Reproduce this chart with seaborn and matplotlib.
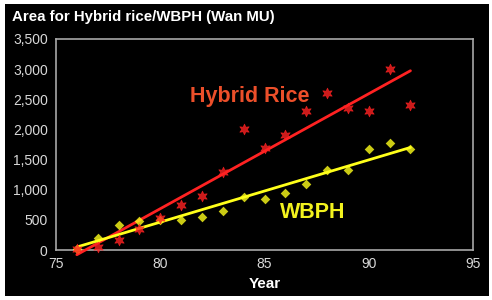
import matplotlib
matplotlib.use("Agg")
import matplotlib.pyplot as plt
import seaborn as sns
import pandas as pd
from matplotlib.patches import Rectangle
from matplotlib.ticker import AutoMinorLocator, FuncFormatter, MultipleLocator

# === Data ===
years = list(range(76, 93))
hybrid_rice = [20, 50, 170, 350, 530, 750, 890, 1300, 2000, 1700, 1900, 2300, 2600, 2350, 2300, 3000, 2400]
wbph = [20, 200, 420, 480, 500, 500, 550, 650, 880, 850, 950, 1100, 1330, 1330, 1680, 1770, 1670]

df = pd.DataFrame({"Year": years, "Hybrid Rice": hybrid_rice, "WBPH": wbph})

sns.set_style("dark")
plt.rcParams["font.family"] = ["Liberation Sans", "DejaVu Sans"]

fig = plt.figure(figsize=(4.92, 3.0), dpi=100)
fig.patch.set_facecolor("white")
# black slide panel with a thin white margin
fig.patches.append(Rectangle((5 / 492, 4 / 300), 484 / 492, 292 / 300,
                             transform=fig.transFigure, facecolor="black",
                             edgecolor="none", zorder=-10))

ax = fig.add_axes([56 / 492, 50 / 300, 417 / 492, 211 / 300])
ax.set_facecolor("black")

# === Regression plots ===
sns.regplot(data=df, x="Year", y="Hybrid Rice", ax=ax, ci=None, marker=(6, 1, 0),
            color="#ff2222",
            scatter_kws={"s": 60, "clip_on": False, "zorder": 4, "linewidths": 0.5},
            line_kws={"lw": 2, "clip_on": False, "zorder": 3})
sns.regplot(data=df, x="Year", y="WBPH", ax=ax, ci=None, marker="D",
            color="#ffff1a",
            scatter_kws={"s": 24, "clip_on": False, "zorder": 3, "linewidths": 0},
            line_kws={"lw": 2, "clip_on": False, "zorder": 3})

ax.set_xlim(75, 95)
ax.set_ylim(0, 3500)
ax.xaxis.set_major_locator(MultipleLocator(5))
ax.yaxis.set_major_locator(MultipleLocator(500))
ax.xaxis.set_minor_locator(AutoMinorLocator(2))
ax.yaxis.set_minor_locator(AutoMinorLocator(2))
ax.yaxis.set_major_formatter(FuncFormatter(lambda v, p: f"{v:,.0f}"))

ax.tick_params(which="major", length=0, labelsize=10, labelcolor="#d8d8d8")
ax.tick_params(axis="x", which="major", pad=5)
ax.tick_params(axis="y", which="major", pad=6)
ax.tick_params(which="minor", direction="in", length=4, color="#a0a0a0", width=1)
for s in ax.spines.values():
    s.set_visible(True)
    s.set_color("#a8a8a8")
    s.set_linewidth(1.2)
ax.grid(False)

ax.set_xlabel("Year", color="white", fontsize=11, fontweight="bold", labelpad=4)
ax.set_ylabel("")

# === Annotations ===
ax.text(84.3, 2540, "Hybrid Rice", color="#ec4f2a", fontsize=15.5, fontweight="bold",
        ha="center", va="center")
ax.text(87.3, 630, "WBPH", color="#f2f21e", fontsize=15.5, fontweight="bold",
        ha="center", va="center")
fig.text(12 / 492, 1 - 17 / 300, "Area for Hybrid rice/WBPH (Wan MU)", color="white",
         fontsize=10.8, fontweight="bold", ha="left", va="center")

plt.savefig("out.png", dpi=100, facecolor=fig.get_facecolor())
